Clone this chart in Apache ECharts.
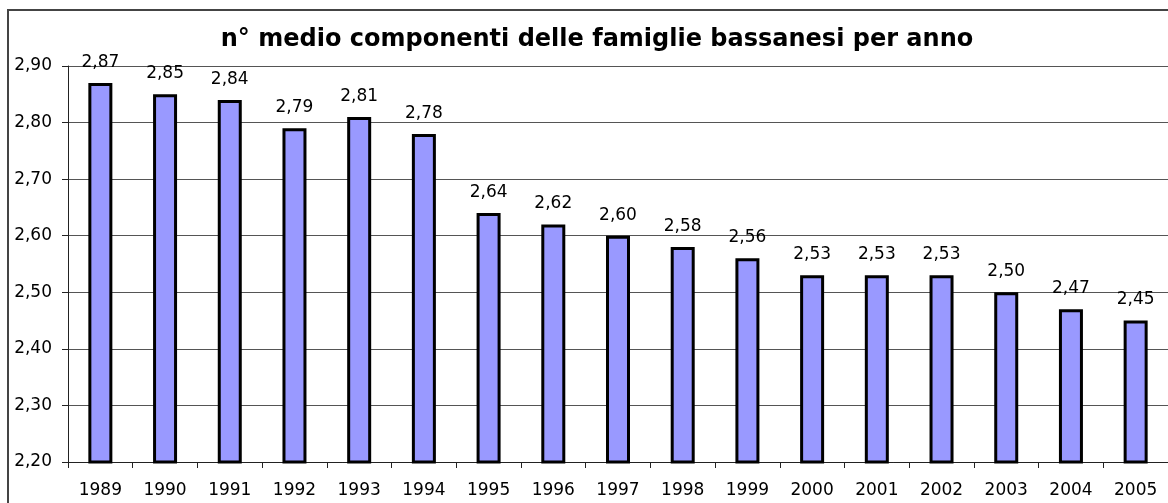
<!DOCTYPE html>
<html>
<head>
<meta charset="utf-8">
<script src="https://cdn.jsdelivr.net/npm/echarts@6/dist/echarts.min.js"></script>
<style>
	html, body { margin: 0; padding: 0; background: #fff; }
	#chart { width: 1168px; height: 503px; }
</style>
</head>
<body>
<div id="chart"></div>
<script>
	// dati
	const anni = ['1989', '1990', '1991', '1992', '1993', '1994', '1995', '1996', '1997',
		'1998', '1999', '2000', '2001', '2002', '2003', '2004', '2005'];
	const componenti = [2.87, 2.85, 2.84, 2.79, 2.81, 2.78, 2.64, 2.62, 2.60,
		2.58, 2.56, 2.53, 2.53, 2.53, 2.50, 2.47, 2.45];
	const titolo = 'n° medio componenti delle famiglie bassanesi per anno';

	const font = 'DejaVu Sans, Arial, sans-serif';
	const virgola = v => Number(v).toFixed(2).replace('.', ',');

	const myChart = echarts.init(document.getElementById('chart'));
	myChart.setOption({
		animation: false,
		textStyle: { fontFamily: font },
		title: {
			text: titolo,
			left: 592,
			top: 23,
			textAlign: 'center',
			textStyle: { fontSize: 24, fontWeight: 'bold', color: '#000', fontFamily: font }
		},
		// cornice esterna (tagliata a destra e in basso come nell'originale)
		graphic: [{
			type: 'rect',
			shape: { x: 8, y: 10, width: 1200, height: 600 },
			style: { fill: 'none', stroke: '#444', lineWidth: 2 },
			silent: true
		}],
		grid: { left: 68, top: 66, width: 1103, bottom: 41, containLabel: false },
		xAxis: {
			type: 'category',
			data: anni,
			axisLine: { lineStyle: { color: '#222', width: 1 } },
			axisTick: { show: true, length: 6, lineStyle: { color: '#222' } },
			axisLabel: { color: '#000', fontSize: 17, margin: 20, fontFamily: font }
		},
		yAxis: {
			type: 'value',
			min: 2.2,
			max: 2.9,
			interval: 0.1,
			axisLine: { show: true, lineStyle: { color: '#222', width: 1 } },
			axisTick: { show: true, length: 6, lineStyle: { color: '#222' } },
			splitLine: { lineStyle: { color: '#555', width: 1 } },
			axisLabel: { color: '#000', fontSize: 17, margin: 16, fontFamily: font, formatter: virgola }
		},
		series: [{
			name: 'componenti',
			type: 'bar',
			data: componenti,
			barWidth: 24,
			itemStyle: { color: '#9999ff', borderColor: '#000', borderWidth: 3 },
			label: {
				show: true,
				position: 'top',
				distance: 12,
				color: '#000',
				fontSize: 17,
				fontFamily: font,
				formatter: p => virgola(p.value)
			}
		}]
	});
</script>
</body>
</html>
